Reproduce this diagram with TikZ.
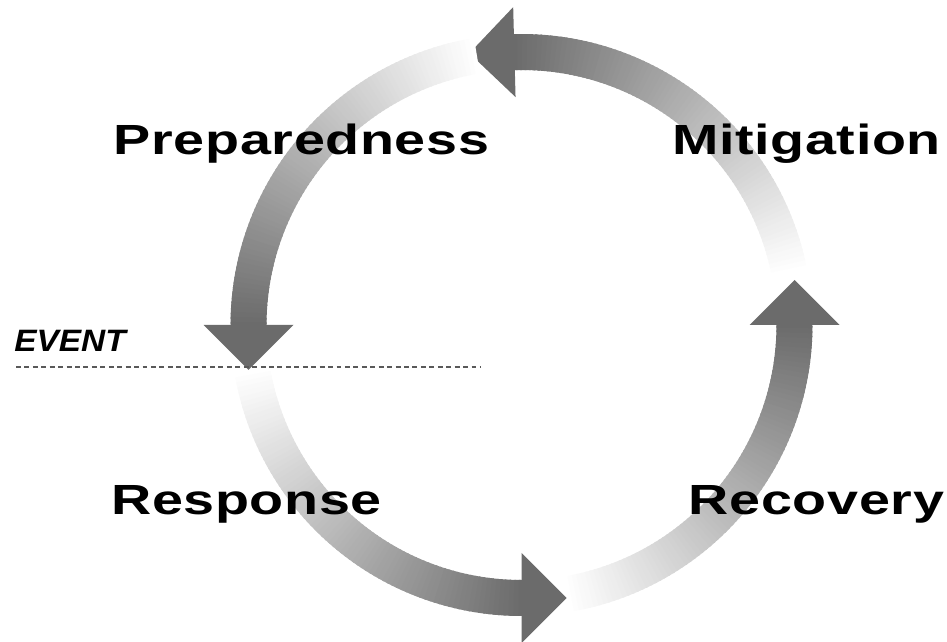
\documentclass[tikz,border=0pt]{standalone}
\usepackage{fontspec}
\setmainfont{Liberation Sans}
\newfontfamily\phasefont{Liberation Sans}[FakeStretch=1.32,LetterSpace=1.5]
\newfontfamily\eventfont{Liberation Sans}[FakeStretch=1.08]
\tikzset{
  phase/.style={font=\phasefont\bfseries\fontsize{24}{28}\selectfont,
    anchor=base, inner sep=0pt},
  eventlabel/.style={font=\eventfont\bfseries\itshape\fontsize{17.6}{20}\selectfont,
    anchor=base west, inner sep=0pt},
  eventline/.style={black!65, line width=.6pt, dash pattern=on 2.8pt off 2pt}
}
\begin{document}
\begin{tikzpicture}[x=.2mm,y=.2mm]
\useasboundingbox (0,0) rectangle (947,642);
\coordinate (c) at (521.5,317);
% four arcs, white at the tail, dark at the head
\foreach \a in {0,91.5,180,270} {
  \begin{scope}[shift={(c)},rotate=\a]
  \foreach \i [evaluate=\i as \g using 58*\i/80,
               evaluate=\i as \t using -80.6+\i,
               evaluate=\i as \u using -79.2+\i] in {0,...,80}
    \fill[black!\g] (\t:255) arc[start angle=\t,end angle=\u,radius=255]
      -- (\u:291) arc[start angle=\u,end angle=\t,radius=291] -- cycle;
  \fill[black!58] (228,0) -- (318,0) -- (273,45) -- cycle;
  \end{scope}
}
\coordinate (ev1) at (16,275);
\coordinate (ev2) at (480,275);
\draw[eventline] (ev1) -- (ev2);
\node[eventlabel] (event) at (14,290) {EVENT};
\node[phase] (prep) at (301.5,487) {Preparedness};
\node[phase] (miti) at (806.5,487) {Mitigation};
\node[phase] (resp) at (246.5,127) {Response};
\node[phase] (reco) at (816.5,127) {Recovery};
\end{tikzpicture}
\end{document}
